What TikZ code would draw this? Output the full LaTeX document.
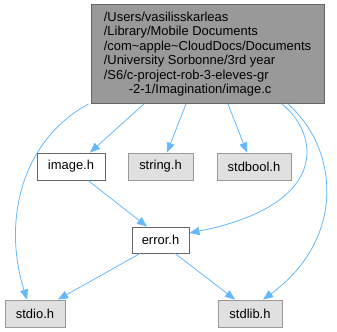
\documentclass[tikz,border=0pt]{standalone}
\usepackage{fontspec}
\setmainfont{Liberation Sans}
\usetikzlibrary{arrows.meta}
\definecolor{edgeblue}{HTML}{63B8FF}
\definecolor{darkfill}{HTML}{999999}
\definecolor{darkline}{HTML}{666666}
\definecolor{lightfill}{HTML}{E0E0E0}
\definecolor{lightline}{HTML}{999999}
\begin{document}
\begin{tikzpicture}[x=1bp,y=-1bp,
  box/.style={draw, rectangle, inner sep=0pt, minimum height=27bp,
    font=\fontsize{13}{14.5}\selectfont, line width=0.9bp},
  mainbox/.style={box, fill=darkfill, draw=darkline},
  localbox/.style={box, fill=white, draw=darkline},
  sysbox/.style={box, fill=lightfill, draw=lightline},
  dep/.style={draw=edgeblue, line width=0.8bp,
    -{Triangle[length=10bp,width=8bp,fill=edgeblue]}}]
\useasboundingbox (0,0) rectangle (337,332);

\node[mainbox, minimum width=233bp, minimum height=99bp, align=left] (top) at (207.5,54)
  {/Users/vasilisskarleas\\/Library/Mobile Documents\\/com\textasciitilde apple\textasciitilde CloudDocs/Documents\\/University Sorbonne/3rd year\\/S6/c-project-rob-3-eleves-gr\\\hspace*{25bp}-2-1/Imagination/image.c};

\node[localbox, minimum width=68bp] (imageh) at (71,166.5) {image.h};
\node[sysbox, minimum width=65bp] (stringh) at (160.5,166.5) {string.h};
\node[sysbox, minimum width=74bp] (stdboolh) at (254,166.5) {stdbool.h};
\node[localbox, minimum width=57bp, minimum height=26bp] (errorh) at (160.5,240) {error.h};
\node[sysbox, minimum width=60bp] (stdioh) at (35,313.5) {stdio.h};
\node[sysbox, minimum width=64bp] (stdlibh) at (250,313.5) {stdlib.h};

% direct includes of image.c
\draw[dep] ([xshift=-63.5bp]top.south) -- ([xshift=19bp]imageh.north);
\draw[dep] ([xshift=-21.5bp]top.south) -- ([xshift=6.5bp]stringh.north);
\draw[dep] ([xshift=20.5bp]top.south) -- ([xshift=-7bp]stdboolh.north);
\draw[dep] ([xshift=-119bp]top.south) .. controls (22,140) and (2,220) .. ([xshift=-8bp]stdioh.north);
\draw[dep] ([xshift=74.5bp]top.south) .. controls (320,135) and (330,205) .. ([yshift=7bp]errorh.east);
\draw[dep] ([xshift=80.5bp]top.south) .. controls (340,150) and (345,240) .. ([xshift=13bp]stdlibh.north);

% nested includes
\draw[dep] ([xshift=17bp]imageh.south) -- ([xshift=-13.5bp]errorh.north);
\draw[dep] ([xshift=-20.5bp]errorh.south) -- ([xshift=23bp]stdioh.north);
\draw[dep] ([xshift=14.5bp]errorh.south) -- ([xshift=-15bp]stdlibh.north);
\end{tikzpicture}
\end{document}
